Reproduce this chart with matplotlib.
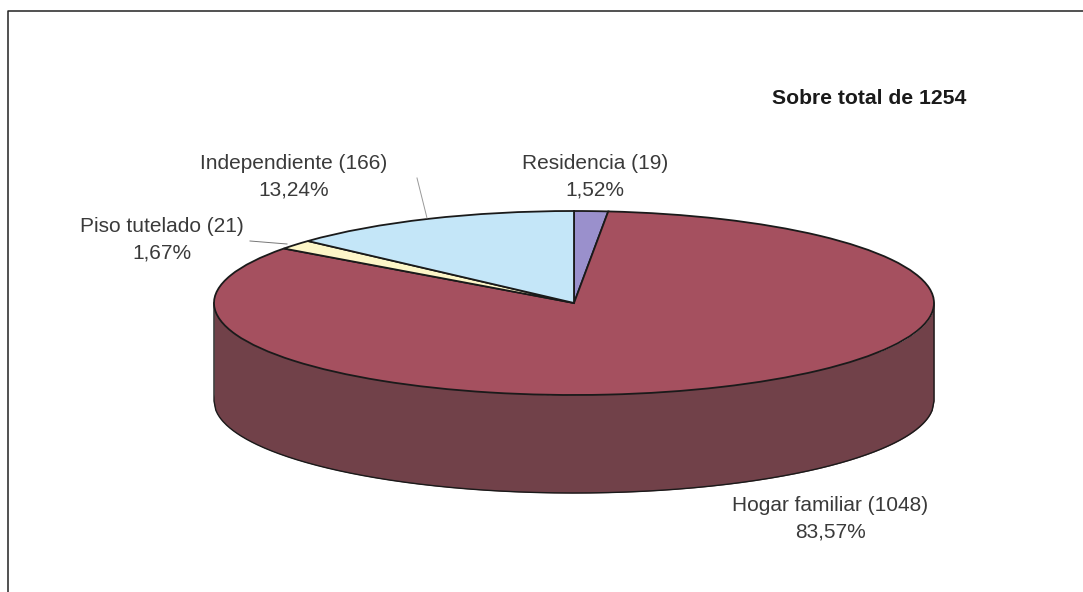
import numpy as np
import matplotlib
matplotlib.use("Agg")
import matplotlib.pyplot as plt

categories = ["Residencia", "Hogar familiar", "Piso tutelado", "Independiente"]
counts = [19, 1048, 21, 166]
percent_labels = ["1,52%", "83,57%", "1,67%", "13,24%"]
top_colors = ["#9A90CC", "#A5505F", "#FDF6C8", "#C4E6F8"]
side_colors = ["#714149", "#714149", "#714149", "#714149"]
title_text = "Sobre total de 1254"

W, H = 1083, 592
plt.rcParams["font.family"] = ["Liberation Sans", "DejaVu Sans"]
fig = plt.figure(figsize=(W / 100, H / 100), dpi=100, facecolor="white")
ax = fig.add_axes([0, 0, 1, 1])

CX, CY, RX, RY, DEPTH = 574, 303, 360, 92, 98
d = DEPTH / RY

# side of the cylinder
ax.pie(counts, colors=side_colors, startangle=90, counterclock=False,
       center=(0, -d), radius=1, frame=False,
       wedgeprops=dict(edgecolor="none"))
xs = np.linspace(-1, 1, 401)
lower = -np.sqrt(1 - xs ** 2)
ax.fill_between(xs, lower, lower - d, color=side_colors[0], lw=0, zorder=1.5)
ax.plot(np.r_[-1, xs, 1], np.r_[0, lower - d, 0], color="#1a1a1a", lw=1.0,
        zorder=1.6, solid_joinstyle="round", snap=False)

# top of the cylinder
wedges, _ = ax.pie(counts, colors=top_colors, startangle=90, counterclock=False,
                   center=(0, 0), radius=1, frame=False,
                   wedgeprops=dict(edgecolor="#1a1a1a", linewidth=1.3))
for w in wedges:
    w.set_zorder(2)

ax.set_aspect("auto")
ax.set_xlim((0 - CX) / RX, (W - CX) / RX)
ax.set_ylim((CY - H) / RY, CY / RY)
ax.axis("off")


def px(x, y):
    return x / W, 1 - y / H


label_pos = {
    "Residencia": (595, 177),
    "Hogar familiar": (830, 519),
    "Piso tutelado": (162, 240),
    "Independiente": (294, 177),
}
for name, count, pct in zip(categories, counts, percent_labels):
    x, y = label_pos[name]
    fig.text(*px(x, y), f"{name} ({count})\n{pct}", ha="center", va="center",
             fontsize=15.0, color="#3a3a3a", linespacing=1.5)

fig.text(*px(869, 99), title_text, ha="center", va="center",
         fontsize=15.2, fontweight="bold", color="#1a1a1a")

# leader lines
fig.add_artist(plt.Line2D([250 / W, 287 / W], [1 - 241 / H, 1 - 244 / H],
                          color="#777777", lw=0.7))
fig.add_artist(plt.Line2D([417 / W, 427 / W], [1 - 178 / H, 1 - 218 / H],
                          color="#999999", lw=0.7))

# outer frame, open on the right and bottom
fig.add_artist(plt.Line2D([8 / W, 8 / W, W / W], [0, 1 - 11 / H, 1 - 11 / H],
                          color="#222222", lw=1.1))

fig.savefig("out.png", dpi=100, facecolor="white")
